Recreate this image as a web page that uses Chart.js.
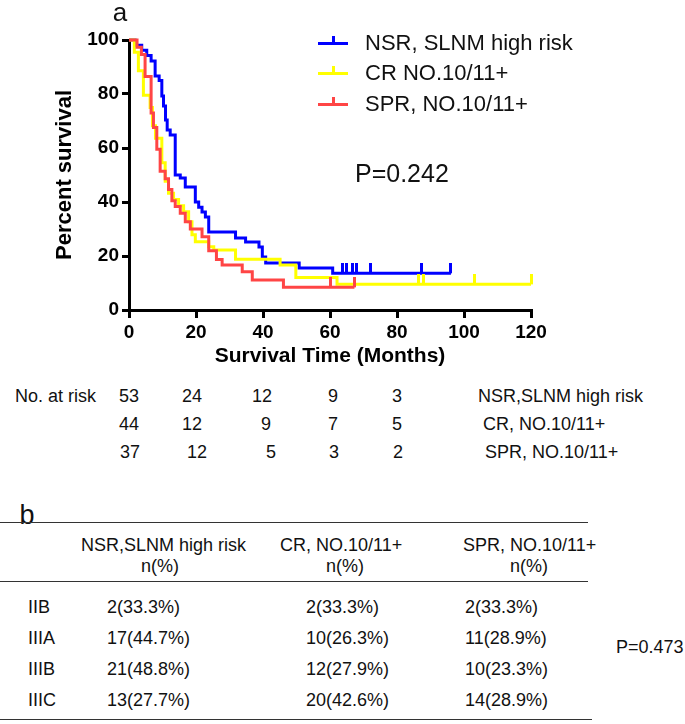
<!DOCTYPE html>
<html>
<head>
<meta charset="utf-8">
<script src="https://cdn.jsdelivr.net/npm/chart.js@4.4.1/dist/chart.umd.min.js"></script>
<style>
  body { margin: 0; background: #fff; font-family: Arial, "Liberation Sans", sans-serif; }
  #page { position: relative; width: 685px; height: 724px; overflow: hidden; background: #fff; }
  #popChart { position: absolute; left: 0; top: 0; }
  .t { position: absolute; white-space: nowrap; line-height: 1; color: #111; }
  .hl { position: absolute; height: 0; border-top: 1.5px solid #333; }
  .sw { position: absolute; height: 3px; width: 30px; }
  .sw i { position: absolute; left: 13.5px; bottom: 2px; width: 3px; height: 7px; background: inherit; }
</style>
</head>
<body>
<div id="page">
  <canvas id="popChart" width="685" height="380"></canvas>
</div>
<script>
// survival curves, months / percent
const nsrTimes = [0, 1.8, 3.8, 5.3, 6.6, 7.8, 9.0, 9.8, 10.3, 10.9, 11.4, 12.3, 13.8, 15.3, 16.8, 19.8, 20.8, 21.8, 22.8, 23.8, 31.8, 34.8, 38.8, 39.8, 40.8, 50.8, 60.8, 96.1]
const nsrSurv = [100, 98.1, 96.2, 94.3, 92.2, 86.7, 85.0, 79.3, 75.6, 70.4, 66.7, 64.8, 50.0, 48.9, 45.6, 40.0, 38.1, 36.3, 34.4, 28.9, 26.7, 25.2, 23.3, 19.6, 17.4, 15.6, 13.6, 13.6]
const nsrCensor = [63.8, 64.8, 66.8, 67.8, 72.0, 87.3, 96.1]

const crTimes = [0, 1.6, 2.8, 4.3, 6.3, 7.0, 7.9, 9.8, 10.8, 11.8, 13.3, 14.8, 16.3, 17.8, 18.8, 19.8, 23.8, 25.3, 31.8, 45.1, 49.8, 62.1, 120]
const crSurv = [100, 95.5, 88.6, 79.5, 75.0, 68.2, 63.6, 54.5, 47.7, 43.2, 40.9, 38.6, 36.4, 32.7, 27.9, 25.3, 23.4, 22.2, 18.8, 16.7, 12.0, 9.5, 9.5]
const crCensor = [86.3, 88.0, 103.2, 120]

const sprTimes = [0, 2.4, 3.7, 4.8, 6.6, 7.3, 8.3, 9.3, 10.8, 11.8, 12.8, 13.8, 15.3, 16.8, 18.3, 21.8, 23.8, 26.1, 27.8, 33.8, 36.8, 46.1, 67.3]
const sprSurv = [100, 97.3, 94.6, 86.5, 73.0, 67.6, 59.5, 51.4, 48.6, 44.6, 40.5, 38.3, 35.8, 32.7, 30.0, 27.1, 21.9, 18.7, 16.7, 14.2, 11.1, 8.4, 8.4]
const sprCensor = [60.2, 67.3]

const seriesNames = ['NSR, SLNM high risk', 'CR NO.10/11+', 'SPR, NO.10/11+']
const xTicks = [0, 20, 40, 60, 80, 100, 120]
const yTicks = [0, 20, 40, 60, 80, 100]

// number at risk
const riskNSR = [53, 24, 12, 9, 3]
const riskCR = [44, 12, 9, 7, 5]
const riskSPR = [37, 12, 5, 3, 2]
const riskNames = ['NSR,SLNM high risk', 'CR, NO.10/11+', 'SPR, NO.10/11+']

// stage table
const stageNames = ['IIB', 'IIIA', 'IIIB', 'IIIC']
const stageNSR = ['2(33.3%)', '17(44.7%)', '21(48.8%)', '13(27.7%)']
const stageCR = ['2(33.3%)', '10(26.3%)', '12(27.9%)', '20(42.6%)']
const stageSPR = ['2(33.3%)', '11(28.9%)', '10(23.3%)', '14(28.9%)']
const tableHeads = ['NSR,SLNM high risk', 'CR, NO.10/11+', 'SPR, NO.10/11+']

const BLUE = '#0000ff'
const YELLOW = '#ffff00'
const RED = '#ff4545'

const page = document.getElementById('page')

function addText(txt, x, cy, size, opts) {
    opts = opts || {}
    let d = document.createElement('div')
    d.className = 't'
    d.textContent = txt
    d.style.fontSize = size + 'px'
    d.style.top = (cy - size * 0.49) + 'px'
    if (opts.bold) d.style.fontWeight = 'bold'
    d.style.left = x + 'px'
    if (opts.center) d.style.transform = 'translateX(-50%)'
    page.appendChild(d)
    return d
}

function addLine(x1, x2, y) {
    let d = document.createElement('div')
    d.className = 'hl'
    d.style.left = x1 + 'px'
    d.style.width = (x2 - x1) + 'px'
    d.style.top = y + 'px'
    page.appendChild(d)
}

// small upward tick used as censor mark
function censorMark(color) {
    let c = document.createElement('canvas')
    c.width = 3
    c.height = 20
    let g = c.getContext('2d')
    g.fillStyle = color
    g.fillRect(0, 0, 3, 10)
    return c
}

function toPts(t, s) {
    return t.map((x, i) => ({ x: x, y: s[i] }))
}

function curve(t, s, color, order) {
    return {
        type: 'line',
        data: toPts(t, s),
        borderColor: color,
        backgroundColor: color,
        borderWidth: 3,
        stepped: 'before',
        pointRadius: 0,
        fill: false,
        clip: 6,
        order: order
    }
}

function censors(t, level, color, order) {
    return {
        type: 'scatter',
        data: t.map(x => ({ x: x, y: level })),
        pointStyle: censorMark(color),
        pointRadius: 10,
        showLine: false,
        clip: 12,
        order: order
    }
}

const tickFont = { family: 'Arial', size: 19, weight: 'bold' }

const config = {
    data: {
        datasets: [
            curve(sprTimes, sprSurv, RED, 0),
            censors(sprCensor, sprSurv[sprSurv.length - 1], RED, 0),
            curve(crTimes, crSurv, YELLOW, 1),
            censors(crCensor, crSurv[crSurv.length - 1], YELLOW, 1),
            curve(nsrTimes, nsrSurv, BLUE, 2),
            censors(nsrCensor, nsrSurv[nsrSurv.length - 1], BLUE, 2)
        ]
    },
    options: {
        responsive: false,
        animation: false,
        devicePixelRatio: 1,
        layout: { padding: { left: 0, top: 40, right: 154, bottom: 0 } },
        plugins: { legend: { display: false }, tooltip: { enabled: false } },
        scales: {
            x: {
                type: 'linear',
                min: 0,
                max: 120,
                afterBuildTicks: s => { s.ticks = xTicks.map(v => ({ value: v })) },
                afterFit: s => { s.height = 70 },
                ticks: { font: tickFont, color: '#000', padding: 3, maxRotation: 0 },
                grid: { drawOnChartArea: false, drawTicks: true, tickLength: 8, color: '#000', lineWidth: 3 },
                border: { display: true, color: '#000', width: 3 },
                title: {
                    display: true,
                    text: 'Survival Time (Months)',
                    color: '#000',
                    font: { family: 'Arial', size: 21, weight: 'bold' },
                    padding: { top: 0, bottom: 11 }
                }
            },
            y: {
                type: 'linear',
                min: 0,
                max: 100,
                afterBuildTicks: s => { s.ticks = yTicks.map(v => ({ value: v })) },
                afterFit: s => { s.width = 129 },
                ticks: { font: tickFont, color: '#000', padding: 3 },
                grid: { drawOnChartArea: false, drawTicks: true, tickLength: 7, color: '#000', lineWidth: 3 },
                border: { display: true, color: '#000', width: 3 },
                title: {
                    display: true,
                    text: 'Percent survival',
                    color: '#000',
                    font: { family: 'Arial', size: 22, weight: 'bold' },
                    padding: { top: 52, bottom: 0 }
                }
            }
        }
    }
}

new Chart(document.getElementById('popChart').getContext('2d'), config)

// panel letters and p value
addText('a', 120, 12, 26, { center: true })
addText('P=0.242', 355, 173, 25)

// legend
const legendColors = [BLUE, YELLOW, RED]
const legendY = [43, 73, 104]
seriesNames.forEach((name, i) => {
    let sw = document.createElement('div')
    sw.className = 'sw'
    sw.style.left = '318px'
    sw.style.top = (legendY[i] - 1.5) + 'px'
    sw.style.background = legendColors[i]
    sw.appendChild(document.createElement('i'))
    page.appendChild(sw)
    addText(name, 365, legendY[i], 22)
})

// number at risk rows
const riskRows = [riskNSR, riskCR, riskSPR]
const riskY = [396, 424, 452]
const riskX = [[129, 192, 262, 333, 397], [129, 192, 266, 333, 397], [130, 197, 271, 334, 398]]
const riskNameX = [478, 483, 485]
addText('No. at risk', 15, riskY[0], 18)
riskRows.forEach((row, r) => {
    row.forEach((v, c) => addText(String(v), riskX[r][c], riskY[r], 18, { center: true }))
    addText(riskNames[r], riskNameX[r], riskY[r], 18)
})

// table b
addText('b', 27, 515, 27, { center: true })
addLine(0, 588, 522)
addLine(0, 588, 581)
addLine(0, 592, 719)
const headX = [81, 280, 463]
const nX = [160, 345, 529]
tableHeads.forEach((h, i) => {
    addText(h, headX[i], 545, 18)
    addText('n(%)', nX[i], 566, 18, { center: true })
})
const rowY = [607, 638, 669, 700]
const cols = [stageNSR, stageCR, stageSPR]
const colX = [107, 306, 465]
stageNames.forEach((s, r) => {
    addText(s, 28, rowY[r], 18)
    cols.forEach((col, c) => addText(col[r], colX[c], rowY[r], 18))
})
addText('P=0.473', 616, 647, 18)
</script>
</body>
</html>
